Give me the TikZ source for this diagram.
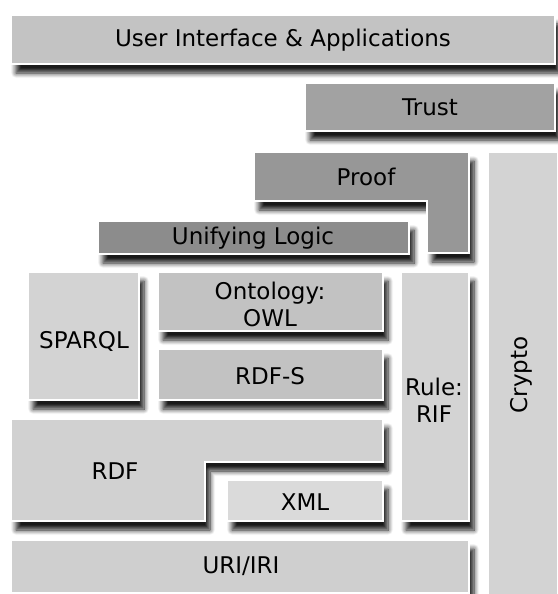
\documentclass[tikz,border=0pt]{standalone}
\usepackage{fontspec}
\setmainfont{DejaVu Sans}
\usetikzlibrary{shadows.blur}

\definecolor{uigray}{HTML}{C3C3C3}
\definecolor{trustgray}{HTML}{A2A2A2}
\definecolor{proofgray}{HTML}{979797}
\definecolor{logicgray}{HTML}{8C8C8C}
\definecolor{midgray}{HTML}{C2C2C2}
\definecolor{lightgray}{HTML}{D3D3D3}
\definecolor{rdfgray}{HTML}{D1D1D1}
\definecolor{xmlgray}{HTML}{DADADA}
\definecolor{urigray}{HTML}{CFCFCF}

\tikzset{
  layer/.style={draw=white, line width=1.5pt,
    blur shadow={shadow xshift=5pt, shadow yshift=-9pt,
      shadow blur radius=5pt, shadow blur steps=8, shadow opacity=90}},
  lbl/.style={align=center, inner sep=0pt,
    font=\fontsize{23}{27}\selectfont}
}

\begin{document}
\begin{tikzpicture}[x=1pt,y=-1pt]
\useasboundingbox (0,0) rectangle (557,594);

% side column first, everything else casts onto it
\filldraw[layer, fill=lightgray] (488,152) rectangle (558,596);
\node[lbl, rotate=90] (crypto) at (521,375) {Crypto};

\filldraw[layer, fill=uigray] (11,15) rectangle (555,64);
\node[lbl] (ui) at (283,40) {User Interface \& Applications};

\filldraw[layer, fill=trustgray] (305,83) rectangle (555,131);
\node[lbl] (trust) at (430,107) {Trust};

% proof wraps down round the logic layer
\filldraw[layer, fill=proofgray] (254,152) -- (469,152) -- (469,253) -- (427,253)
  -- (427,201) -- (254,201) -- cycle;
\node[lbl] (proof) at (366,177) {Proof};

\filldraw[layer, fill=logicgray] (98,221) rectangle (409,254);
\node[lbl] (logic) at (253,238) {Unifying Logic};

\filldraw[layer, fill=lightgray] (28,272) rectangle (139,400);
\node[lbl] (sparql) at (84,341) {SPARQL};

\filldraw[layer, fill=midgray] (158,272) rectangle (383,331);
\node[lbl] (owl) at (270,304) {Ontology:\\OWL};

\filldraw[layer, fill=midgray] (158,349) rectangle (383,400);
\node[lbl] (rdfs) at (270,376) {RDF-S};

\filldraw[layer, fill=lightgray] (401,272) rectangle (469,521);
\node[lbl] (rif) at (434,400) {Rule:\\RIF};

% rdf steps over the xml block
\filldraw[layer, fill=rdfgray] (11,419) -- (383,419) -- (383,462) -- (205,462)
  -- (205,521) -- (11,521) -- cycle;
\node[lbl] (rdf) at (115,471) {RDF};

\filldraw[layer, fill=xmlgray] (227,480) rectangle (383,521);
\node[lbl] (xml) at (305,502) {XML};

\filldraw[layer, fill=urigray] (11,540) rectangle (469,593);
\node[lbl] (uri) at (241,566) {URI/IRI};
\end{tikzpicture}
\end{document}
